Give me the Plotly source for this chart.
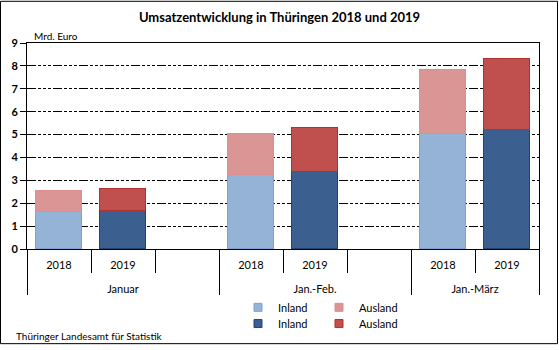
import plotly.graph_objects as go

# ---- data ----
groups = ["Januar", "Jan.-Feb.", "Jan.-März"]
years = ["2018", "2019"]
inland_2018 = [1.62, 3.22, 5.03]
ausland_2018 = [0.90, 1.79, 2.81]
inland_2019 = [1.66, 3.35, 5.22]
ausland_2019 = [0.98, 1.95, 3.09]
y_ticks = [0, 1, 2, 3, 4, 5, 6, 7, 8, 9]

# slot positions: each group has slots for 2018, 2019 and a gap (last group no gap)
pos_2018 = [0, 3, 6]
pos_2019 = [1, 4, 7]
group_centers = [1, 4, 6.5]
inner_bounds = [0.5, 1.5, 3.5, 4.5, 6.5]
group_bounds = [-0.5, 2.5, 5.5, 7.5]

C_IN18, C_IN18_L = "#95B3D7", "#7FA2D2"
C_AU18, C_AU18_L = "#D99694", "#DE8E8C"
C_IN19, C_IN19_L = "#3B5F8E", "#1F4477"
C_AU19, C_AU19_L = "#C0504D", "#B02F2F"

FONT = "Lato"
W, H = 559, 350
L, R, T, B = 27, 20, 43, 97
PW, PH = W - L - R, H - T - B


def px(x):
    return (x - L) / PW


def py(y):
    return (H - B - y) / PH


fig = go.Figure()
bw = 0.72
fig.add_trace(go.Bar(x=pos_2018, y=inland_2018, width=bw, marker=dict(color=C_IN18, line=dict(color=C_IN18_L, width=1)), showlegend=False, hoverinfo="y"))
fig.add_trace(go.Bar(x=pos_2018, y=ausland_2018, width=bw, marker=dict(color=C_AU18, line=dict(color=C_AU18_L, width=1)), showlegend=False, hoverinfo="y"))
fig.add_trace(go.Bar(x=pos_2019, y=inland_2019, width=bw, marker=dict(color=C_IN19, line=dict(color=C_IN19_L, width=1)), showlegend=False, hoverinfo="y"))
fig.add_trace(go.Bar(x=pos_2019, y=ausland_2019, width=bw, marker=dict(color=C_AU19, line=dict(color=C_AU19_L, width=1)), showlegend=False, hoverinfo="y"))

# legend entries
for name, col, lc, lg in [("Inland", C_IN18, C_IN18_L, "legend"), ("Ausland", C_AU18, C_AU18_L, "legend"),
                          ("Inland", C_IN19, C_IN19_L, "legend2"), ("Ausland", C_AU19, C_AU19_L, "legend2")]:
    fig.add_trace(go.Scatter(x=[None], y=[None], mode="markers", name=name, legend=lg,
                             marker=dict(symbol="square", size=8, color=col, line=dict(color=lc, width=1))))

# empty helper traces so that the overlay axes (tick dividers, group labels) are rendered
for ax in ["x2", "x3", "x4"]:
    fig.add_trace(go.Scatter(x=[None], y=[None], xaxis=ax, yaxis="y", showlegend=False, hoverinfo="skip"))

tickfont = dict(family=FONT, size=11, color="black")
common_x = dict(range=[-0.5, 7.5], fixedrange=True, showgrid=False, zeroline=False)

fig.update_layout(
    width=W, height=H, margin=dict(l=L, r=R, t=T, b=B),
    paper_bgcolor="white", plot_bgcolor="white",
    barmode="stack", bargap=0,
    font=dict(family=FONT, size=11, color="black"),
    title=dict(text="<b>Umsatzentwicklung in Thüringen 2018 und 2019</b>", x=279.5 / W, xanchor="center",
               y=1 - 17 / H, yanchor="middle", font=dict(family=FONT, size=13, color="black")),
    xaxis=dict(**common_x, tickmode="array", tickvals=pos_2018 + pos_2019,
               ticktext=[years[0]] * 3 + [years[1]] * 3,
               ticks="outside", ticklen=6, tickcolor="rgba(0,0,0,0)", tickfont=tickfont,
               showline=True, linecolor="black", linewidth=1, mirror=True),
    xaxis2=dict(**common_x, overlaying="x", anchor="y", side="bottom", tickmode="array", tickvals=inner_bounds,
                ticks="outside", ticklen=23, tickcolor="black", tickwidth=1, showticklabels=False, showline=False),
    xaxis3=dict(**common_x, overlaying="x", anchor="y", side="bottom", tickmode="array", tickvals=group_bounds,
                ticks="outside", ticklen=45, tickcolor="black", tickwidth=1, showticklabels=False, showline=False),
    xaxis4=dict(**common_x, overlaying="x", anchor="y", side="bottom", tickmode="array", tickvals=group_centers,
                ticktext=groups, ticks="outside", ticklen=30, tickcolor="rgba(0,0,0,0)", tickfont=tickfont,
                showline=False),
    yaxis=dict(range=[0, 9], fixedrange=True, tickmode="array", tickvals=y_ticks, ticks="outside", ticklen=6,
               tickcolor="black", tickfont=dict(family=FONT, size=11, color="black", weight="bold"),
               showgrid=True, gridcolor="black", gridwidth=1, griddash="9px,2px,3px,2px,3px,2px,3px,2px",
               zeroline=False, showline=True, linecolor="black", linewidth=1, mirror=True),
    legend=dict(orientation="h", x=px(238), xanchor="left", y=py(312.5), yanchor="middle", traceorder="normal",
                entrywidth=36, font=dict(family=FONT, size=11), bgcolor="rgba(0,0,0,0)", borderwidth=0),
    legend2=dict(orientation="h", x=px(238), xanchor="left", y=py(329), yanchor="middle", traceorder="normal",
                 entrywidth=36, font=dict(family=FONT, size=11), bgcolor="rgba(0,0,0,0)", borderwidth=0),
    annotations=[
        dict(text="Mrd. Euro", xref="paper", yref="paper", x=px(32), y=py(36), xanchor="left", yanchor="middle",
             showarrow=False, font=dict(family=FONT, size=10, color="black")),
        dict(text="Thüringer Landesamt für Statistik", xref="paper", yref="paper", x=px(14), y=py(341.5),
             xanchor="left", yanchor="middle", showarrow=False, font=dict(family=FONT, size=10, color="black")),
    ],
    shapes=[dict(type="rect", xref="paper", yref="paper", x0=px(0.5), x1=px(557.5), y0=py(349.5), y1=py(0.5),
                 line=dict(color="black", width=1), fillcolor="rgba(0,0,0,0)", layer="above")],
)

fig.write_html("out.html")
